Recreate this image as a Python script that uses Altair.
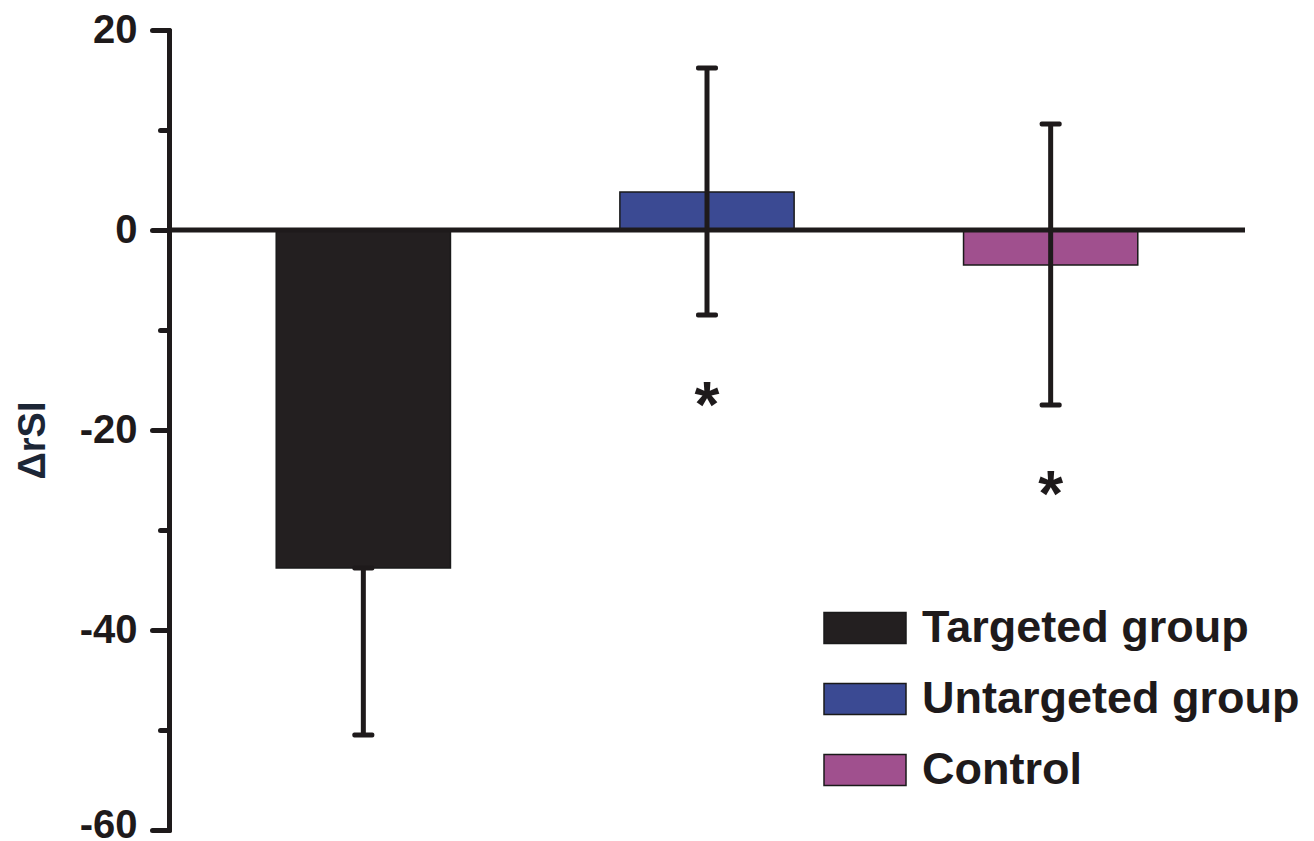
import altair as alt
import pandas as pd

groups = ["Targeted group", "Untargeted group", "Control"]
means = [-33.8, 3.8, -3.5]
err_low = [-50.5, -8.5, -17.5]
err_high = [-33.8, 16.2, 10.6]
colors = ["#231f20", "#3b4a93", "#a0508e"]

star_groups = ["Untargeted group", "Control"]
star_y = [-16.8, -25.7]

y_ticks = [-60, -50, -40, -30, -20, -10, 0, 10, 20]

df = pd.DataFrame({"group": groups, "mean": means, "lo": err_low, "hi": err_high})
stars = pd.DataFrame({"group": star_groups, "sy": star_y})
zero = pd.DataFrame({"z": [0]})

FONT = "Liberation Sans"
INK = "#1e1a1b"

xenc = alt.X("group:N", sort=groups,
             scale=alt.Scale(paddingInner=0.493, paddingOuter=0.312),
             axis=None)
yscale = alt.Scale(domain=[-60, 20], nice=False, zero=False)

bars = alt.Chart(df).mark_bar(stroke="#1a1a1a", strokeWidth=1.5).encode(
    x=xenc,
    y=alt.Y("mean:Q", scale=yscale,
            axis=alt.Axis(values=y_ticks,
                          labelExpr="datum.value % 20 === 0 ? ('' + datum.value) : ''",
                          grid=False,
                          domainWidth=5, domainColor=INK, domainCap="round",
                          tickWidth=5, tickColor=INK, tickCap="round",
                          tickSize={"condition": {"test": "datum.value % 20 !== 0", "value": 9}, "value": 17},
                          labelOffset={"condition": {"test": "datum.value === -60", "value": -5}, "value": 0},
                          labelPadding=15,
                          labelFont=FONT, labelFontSize=40, labelFontWeight="bold",
                          labelColor=INK,
                          title="ΔrSI", titleFont=FONT, titleFontSize=38,
                          titleFontWeight="bold", titleColor="#1c2636",
                          titleAngle=-90, titleX=-136, titleY=410,
                          titleBaseline="middle", titleAlign="center")),
    color=alt.Color("group:N", scale=alt.Scale(domain=groups, range=colors),
                    legend=alt.Legend(orient="none", legendX=654, legendY=556,
                                      title=None, padding=0,
                                      symbolType="M-1,-0.378H1V0.378H-1Z",
                                      symbolSize=6724, symbolStrokeWidth=1.5,
                                      symbolStrokeColor="#1a1a1a", symbolOpacity=1,
                                      labelFont=FONT, labelFontSize=45,
                                      labelFontWeight="bold", labelColor=INK,
                                      labelOffset=15, labelLimit=600,
                                      rowPadding=6)),
)

axis_line = alt.Chart(zero).mark_rule(strokeWidth=5, color=INK).encode(y="z:Q")

err = alt.Chart(df).mark_rule(strokeWidth=5, color=INK).encode(x=xenc, y="lo:Q", y2="hi:Q")
cap_lo = alt.Chart(df).mark_tick(thickness=5, size=22, color=INK, opacity=1, cornerRadius=2).encode(x=xenc, y="lo:Q")
cap_hi = alt.Chart(df).mark_tick(thickness=5, size=22, color=INK, opacity=1, cornerRadius=2).encode(x=xenc, y="hi:Q")

star_marks = alt.Chart(stars).mark_text(text="*", font=FONT, fontSize=64,
                                        fontWeight="bold", color=INK,
                                        baseline="middle", dy=10).encode(
    x=xenc, y="sy:Q")

chart = alt.layer(bars, axis_line, err, cap_lo, cap_hi, star_marks).properties(
    width=1076, height=800,
    padding={"left": 161, "top": 22, "right": 61, "bottom": 11},
    autosize=alt.AutoSizeParams(type="none"),
    background="white",
).configure_view(stroke=None)

chart.save("out.html", embed_options={"renderer": "svg", "actions": False})
